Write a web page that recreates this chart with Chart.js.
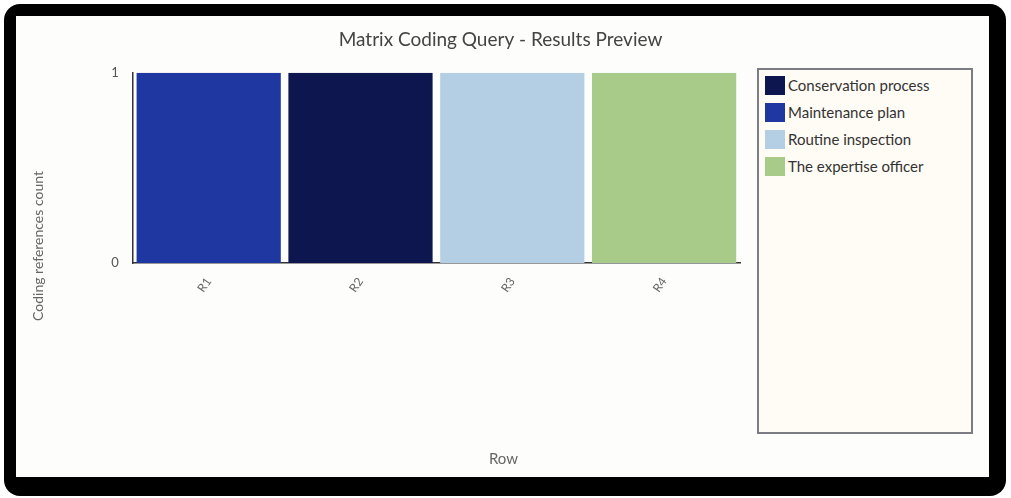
<!DOCTYPE html>
<html>
<head>
<meta charset="utf-8">
<script src="https://cdn.jsdelivr.net/npm/chart.js@4.4.1/dist/chart.umd.min.js"></script>
<style>
  html, body { margin: 0; padding: 0; background: #ffffff; width: 1011px; height: 498px; overflow: hidden; }
  #frame { position: absolute; left: 4px; top: 4px; width: 1002px; height: 492px; background: #000; border-radius: 16px; }
  #panel { position: absolute; left: 16px; top: 16px; width: 973px; height: 461px; background: #fdfdfc; }
  #wrap { position: absolute; left: 0; top: 0; width: 1011px; height: 498px; }
  #legend { position: absolute; left: 757px; top: 68px; width: 212px; height: 362px; border: 2px solid #7c7c84;
            background: #fffcf6; font-family: Lato, "Open Sans", sans-serif; font-size: 15px; color: #333; }
  .item { position: absolute; left: 6px; height: 20px; display: flex; align-items: center; white-space: nowrap; }
  .sw { width: 20px; height: 19px; margin-right: 3px; }
</style>
</head>
<body>
<div id="frame"></div>
<div id="panel"></div>
<div id="wrap"><canvas id="c" width="1011" height="498"></canvas></div>
<div id="legend"></div>
<script>
// Row categories of the matrix
const rowLabels = ['R1', 'R2', 'R3', 'R4'];

// Column nodes (legend order)
const seriesNames = ['Conservation process', 'Maintenance plan', 'Routine inspection', 'The expertise officer'];
const seriesColors = ['#0e1650', '#1f37a0', '#b4cfe3', '#a8cb8a'];

// Coding reference counts per row
const conservationProcess = [null, 1, null, null];
const maintenancePlan     = [1, null, null, null];
const routineInspection   = [null, null, 1, null];
const expertiseOfficer    = [null, null, null, 1];

// Value axis ticks
const yTicks = [0, 1];

const seriesData = [conservationProcess, maintenancePlan, routineInspection, expertiseOfficer];

const datasets = seriesNames.map((name, i) => ({
  label: name,
  data: seriesData[i],
  backgroundColor: seriesColors[i],
  borderWidth: 0,
  barPercentage: 0.95,
  categoryPercentage: 1.0
}));

// Category axis caption, centred under the whole plot panel
const rowCaption = {
  id: 'rowCaption',
  afterDraw(chart) {
    const { ctx } = chart;
    const tb = chart.titleBlock;
    ctx.save();
    ctx.font = '15px Lato';
    ctx.fillStyle = '#666';
    ctx.textAlign = 'center';
    ctx.textBaseline = 'middle';
    ctx.fillText('Row', (tb.left + tb.right) / 2 + 3, 459);
    ctx.restore();
  }
};

const chart = new Chart(document.getElementById('c'), {
  type: 'bar',
  data: { labels: rowLabels, datasets },
  plugins: [rowCaption],
  options: {
    responsive: false,
    animation: false,
    skipNull: true,
    layout: { padding: { left: 10, right: 20, top: 22, bottom: 28 } },
    plugins: {
      legend: { display: false },
      tooltip: { enabled: false },
      title: {
        display: true,
        text: 'Matrix Coding Query - Results Preview',
        color: '#444',
        font: { family: 'Lato', size: 19, weight: 'normal' },
        padding: { top: 6, bottom: 22 }
      },
      subtitle: {
        display: true,
        position: 'left',
        text: 'Coding references count',
        color: '#666',
        font: { family: 'Lato', size: 14, weight: 'normal' },
        padding: { top: 20, bottom: 0 }
      }
    },
    scales: {
      x: {
        grid: { display: false },
        border: { display: true, color: '#333', width: 1.5 },
        ticks: {
          color: '#666',
          font: { family: 'Lato', size: 12 },
          minRotation: 55, maxRotation: 55,
          padding: 4
        },
        afterFit: s => { s.height = 207; }
      },
      y: {
        min: 0, max: 1,
        grid: { display: false, drawTicks: false },
        border: { display: true, color: '#333', width: 1.5 },
        afterBuildTicks: s => { s.ticks = yTicks.map(v => ({ value: v })); },
        ticks: { color: '#555', font: { family: 'Lato', size: 13 }, padding: 14 },
        afterFit: s => { s.width = 86; }
      },
      side: {
        position: 'right',
        min: 0, max: 1,
        grid: { display: false, drawTicks: false },
        border: { display: false },
        ticks: { display: false },
        afterFit: s => { s.width = 251; }
      }
    }
  }
});

// Boxed legend built from the chart's datasets
const legend = document.getElementById('legend');
chart.data.datasets.forEach((ds, i) => {
  const item = document.createElement('div');
  item.className = 'item';
  item.style.top = (5 + i * 27) + 'px';
  const sw = document.createElement('span');
  sw.className = 'sw';
  sw.style.background = ds.backgroundColor;
  const tx = document.createElement('span');
  tx.textContent = ds.label;
  item.appendChild(sw);
  item.appendChild(tx);
  legend.appendChild(item);
});
</script>
</body>
</html>
